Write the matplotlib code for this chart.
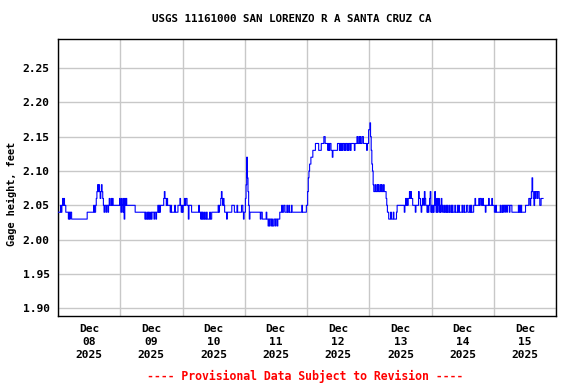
import matplotlib
matplotlib.use("Agg")
import matplotlib.pyplot as plt
import matplotlib.dates as mdates
import numpy as np
import pandas as pd

# Gage height readings every 15 minutes, one string per day.
# Each character is hundredths of a foot above 2.00 ft (base 36: 'a' = 0.10).
dec08 = ("444454565655" "4444343443333" "33333333333333333333" "4444444444"
         "5445" "6" "787876787" "6545" "54554" "5655656" "5555555555" "6")
dec09 = ("546546" "3" "6565" "555555555555" "444444444444444" "343343433434"
         "44344344" "54545" "5555" "676" "656555" "54544" "44454444" "5556545")
dec10 = ("455" "65665" "535" "555" "44444444444" "5443" "434334" "3343333433"
         "4444444444" "5455" "676" "565" "4443" "4444444" "5555" "44445444444" "55434")
dec11 = ("4" "68c975" "3" "44444444444444" "44344" "33333343" "323233232233233233"
         "344" "45445" "544454454445444" "444444444444544444" "45")
dec12 = ("579abbccc" "dddd" "eeeee" "dddd" "eeee" "ff" "eeee" "ded" "ee" "ddcd"
         "dddddd" "eee" "dededeed" "edeed" "edeedeee" "eedeee" "fee" "fefee" "ffe"
         "eeeedee" "g")
dec13 = ("ghfdba87" "787787877878778777" "6544" "3334333433334" "55555555555"
         "456" "565" "66767665" "55545555" "7665" "456" "657655" "45456" "74")
dec14 = ("54545" "7546" "456454654" "4544545445445454"
         "4454445454444544544455444545444" "556" "55555" "65665" "5655" "545"
         "555655" "55655")
dec15 = ("54454" "44444" "54454554" "5545554555" "4444444444" "545454" "44444"
         "55555" "6656" "797" "6576" "77677" "655" "6666")

day_strings = [dec08, dec09, dec10, dec11, dec12, dec13, dec14, dec15]
title = "USGS 11161000 SAN LORENZO R A SANTA CRUZ CA"
ylabel = "Gage height, feet"
footer = "---- Provisional Data Subject to Revision ----"
y_ticks = [1.90, 1.95, 2.00, 2.05, 2.10, 2.15, 2.20, 2.25]

codes = "".join(day_strings)
gage = np.array([2.0 + int(c, 36) / 100 for c in codes])
times = pd.date_range("2025-12-08 00:00", periods=len(gage), freq="15min")

plt.rcParams["font.family"] = ["DejaVu Sans Mono"]
plt.rcParams["font.weight"] = "bold"

fig = plt.figure(figsize=(5.76, 3.84), dpi=100)
ax = fig.add_axes([58 / 576, 1 - 316 / 384, 498 / 576, 277 / 384])

ax.plot(times, gage, color="#0000ff", linewidth=0.8, drawstyle="steps-post", zorder=3)

ax.set_xlim(pd.Timestamp("2025-12-08"), pd.Timestamp("2025-12-16"))
ax.set_ylim(1.889, 2.292)
ax.set_yticks(y_ticks)
ax.set_yticklabels([f"{v:.2f}" for v in y_ticks], fontsize=8.1, fontweight="bold")

ax.xaxis.set_major_locator(mdates.DayLocator())
ax.xaxis.set_major_formatter(plt.NullFormatter())
ax.xaxis.set_minor_locator(mdates.HourLocator(byhour=12))
ax.xaxis.set_minor_formatter(mdates.DateFormatter("%b\n%d\n%Y"))
for lbl in ax.xaxis.get_minorticklabels():
    lbl.set_fontsize(8.1)
    lbl.set_fontweight("bold")
    lbl.set_linespacing(1.38)

ax.tick_params(axis="both", which="both", length=0, pad=6)
ax.grid(True, which="major", color="#c8c8c8", linewidth=1.0)
ax.set_axisbelow(True)
for spine in ax.spines.values():
    spine.set_color("black")
    spine.set_linewidth(1.0)

fig.text(292 / 576, 1 - 19 / 384, title, ha="center", va="center",
         fontsize=7.8, fontweight="bold")
fig.text(12 / 576, 1 - 194 / 384, ylabel, ha="center", va="center",
         rotation=90, fontsize=7.4, fontweight="bold")
fig.text(305 / 576, 1 - 376 / 384, footer, ha="center", va="center",
         fontsize=8.3, fontweight="bold", color="#ff0000")

fig.savefig("out.png", dpi=100)
